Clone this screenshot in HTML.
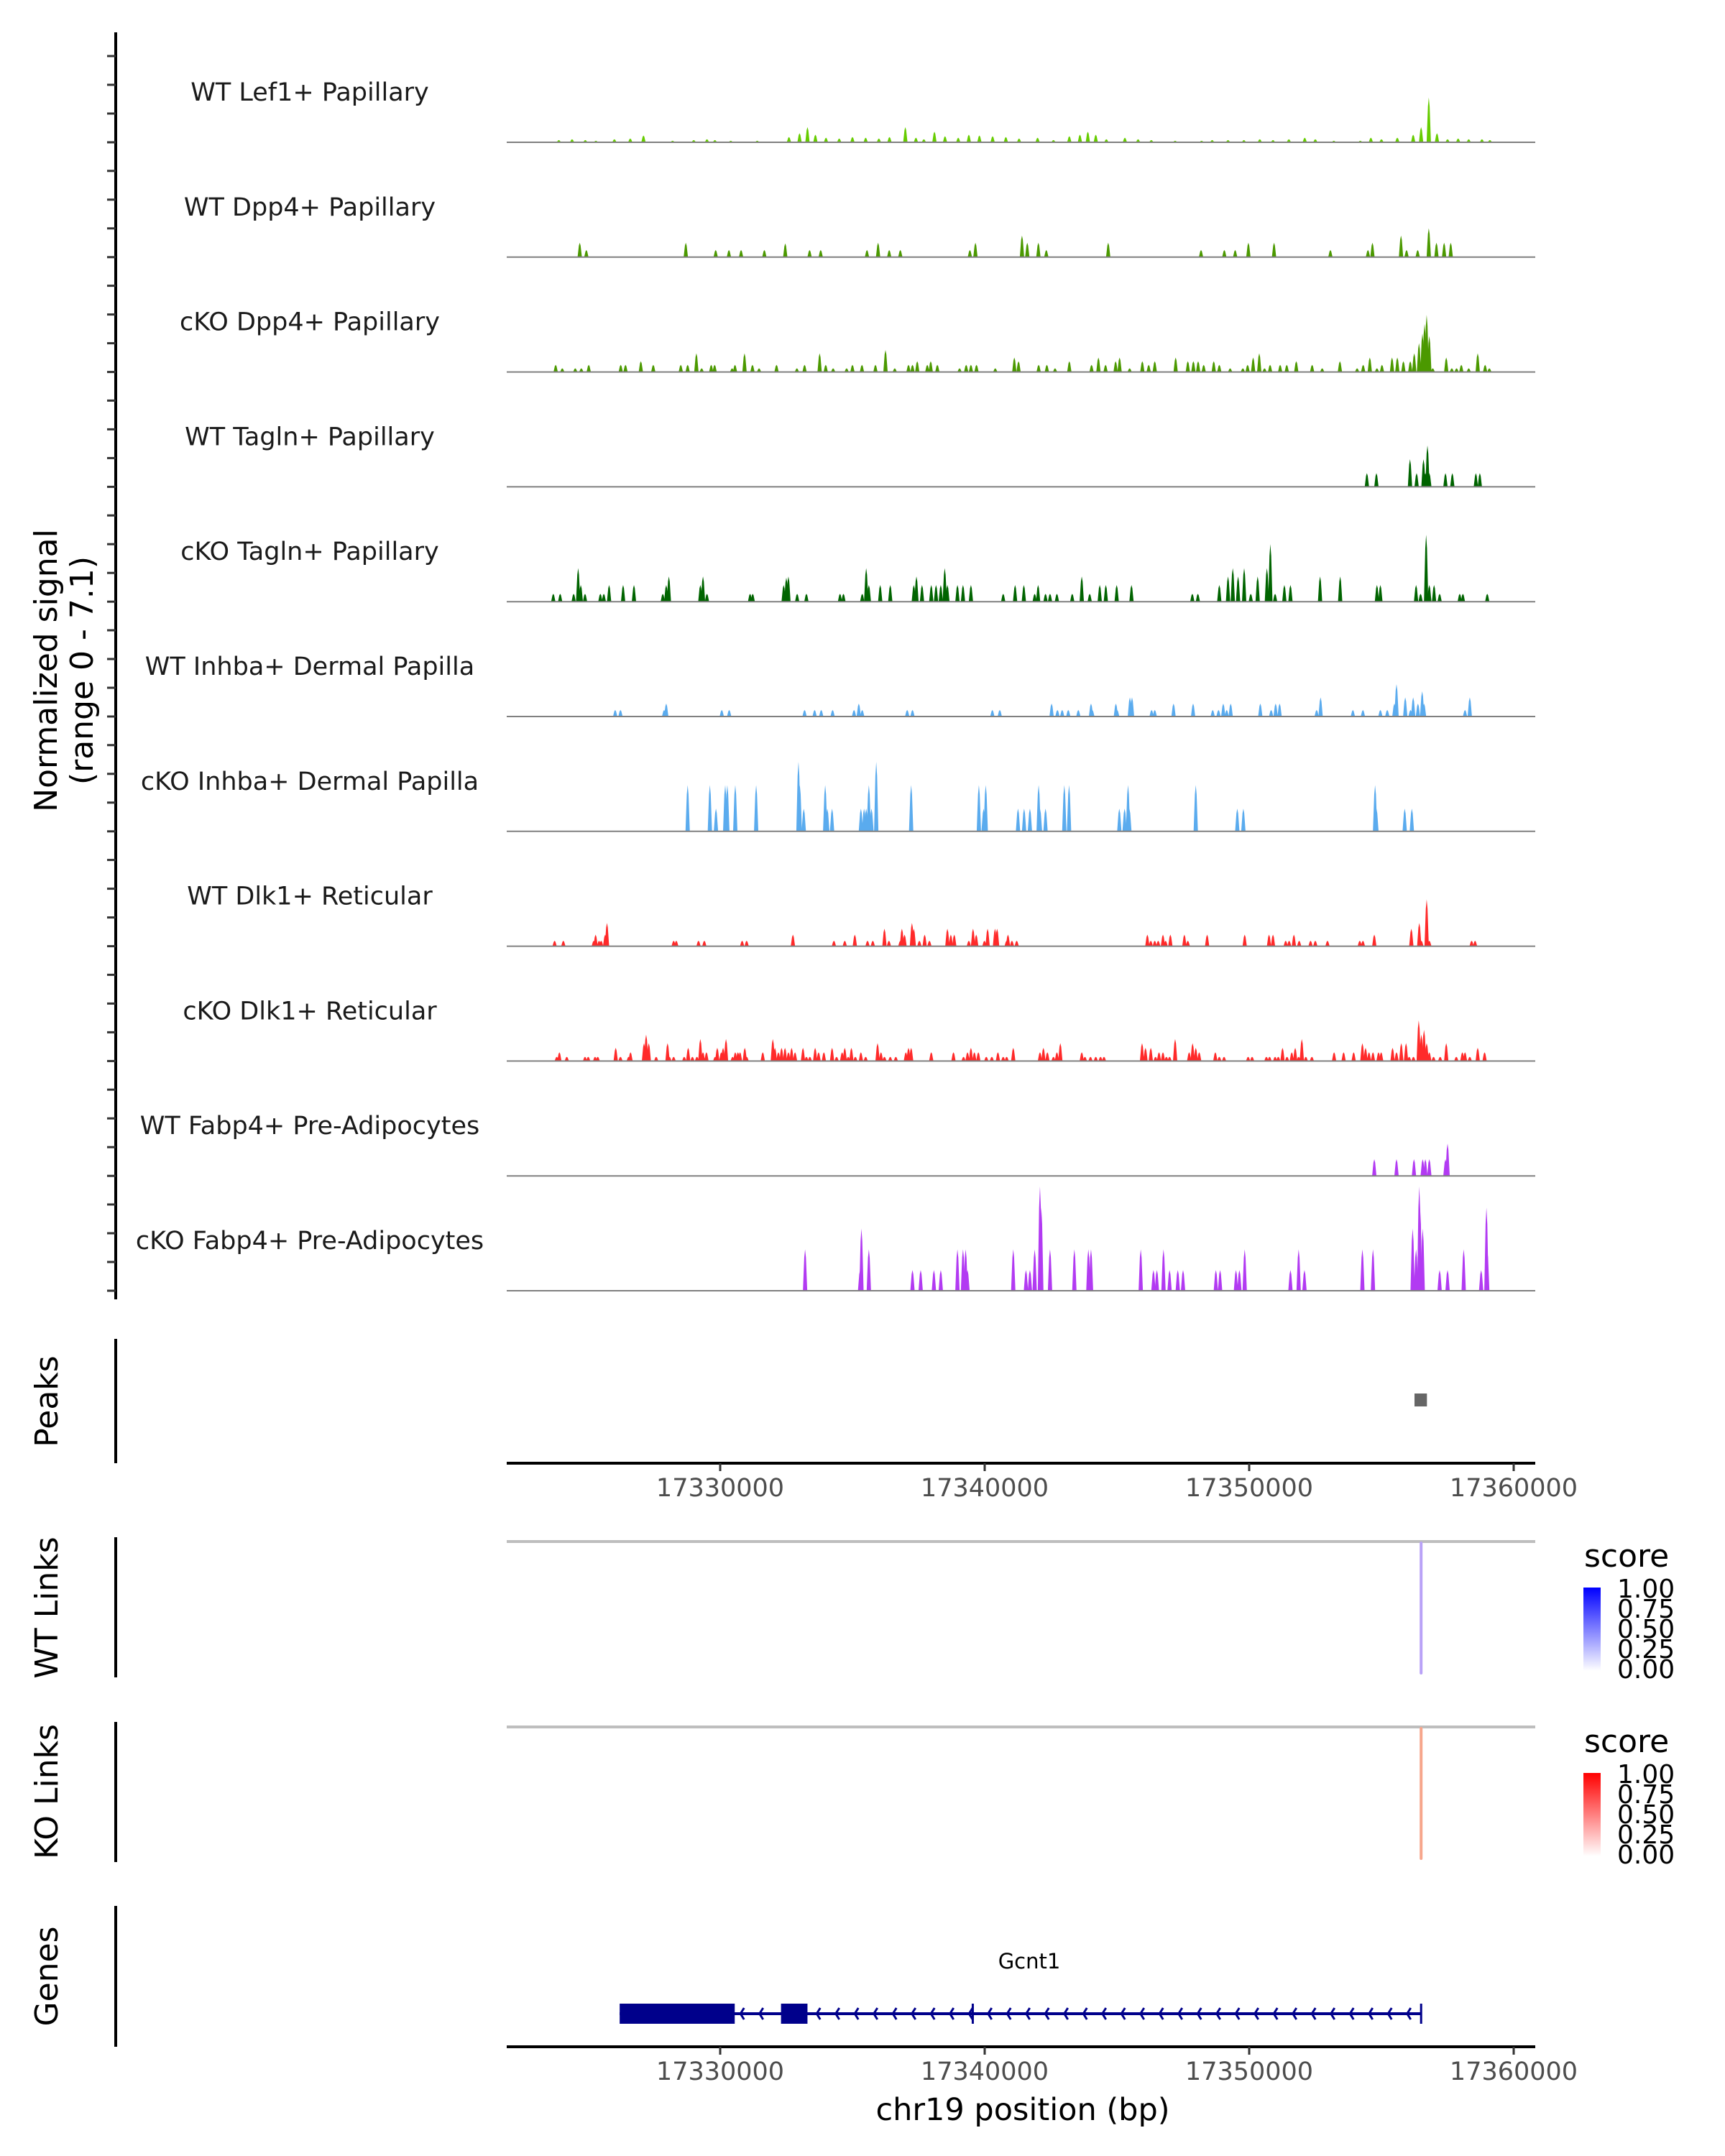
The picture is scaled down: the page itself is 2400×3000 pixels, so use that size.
<!DOCTYPE html>
<html><head><meta charset="utf-8"><style>
html,body{margin:0;padding:0;background:#fff;}
svg{display:block;font-family:"DejaVu Sans","Liberation Sans",sans-serif;}
</style></head><body>
<svg id="chart" width="2400" height="3000" viewBox="0 0 2400 3000" xmlns="http://www.w3.org/2000/svg">
<g id="static">
  <text transform="translate(79,933) rotate(-90)" text-anchor="middle" font-size="44" fill="#000">Normalized signal</text>
  <text transform="translate(129,933) rotate(-90)" text-anchor="middle" font-size="44" fill="#000">(range 0 - 7.1)</text>
  <text transform="translate(80,1950) rotate(-90)" text-anchor="middle" font-size="44" fill="#000">Peaks</text>
  <text transform="translate(80,2237) rotate(-90)" text-anchor="middle" font-size="44" fill="#000">WT Links</text>
  <text transform="translate(80,2493) rotate(-90)" text-anchor="middle" font-size="44" fill="#000">KO Links</text>
  <text transform="translate(80,2750) rotate(-90)" text-anchor="middle" font-size="44" fill="#000">Genes</text>
  <line x1="161" y1="1863" x2="161" y2="2036" stroke="#000" stroke-width="4"/>
  <line x1="161" y1="2139" x2="161" y2="2334" stroke="#000" stroke-width="4"/>
  <line x1="161" y1="2396" x2="161" y2="2591" stroke="#000" stroke-width="4"/>
  <line x1="161" y1="2652" x2="161" y2="2848" stroke="#000" stroke-width="4"/>
  <text x="1423" y="2950" text-anchor="middle" font-size="43" fill="#000">chr19 position (bp)</text>
  <defs>
    <linearGradient id="gBlue" x1="0" y1="1" x2="0" y2="0"><stop offset="0" stop-color="#ffffff"/><stop offset="1" stop-color="#0000ff"/></linearGradient>
    <linearGradient id="gRed" x1="0" y1="1" x2="0" y2="0"><stop offset="0" stop-color="#ffffff"/><stop offset="1" stop-color="#ff0000"/></linearGradient>
  </defs>
  <g>
    <text x="2204" y="2180" font-size="44" fill="#000">score</text>
    <rect x="2203" y="2209" width="24" height="116" fill="url(#gBlue)"/>
    <text x="2250" y="2223" font-size="36">1.00</text>
    <text x="2250" y="2251" font-size="36">0.75</text>
    <text x="2250" y="2279" font-size="36">0.50</text>
    <text x="2250" y="2307" font-size="36">0.25</text>
    <text x="2250" y="2335" font-size="36">0.00</text>
  </g>
  <g transform="translate(0,258)">
    <text x="2204" y="2180" font-size="44" fill="#000">score</text>
    <rect x="2203" y="2209" width="24" height="116" fill="url(#gRed)"/>
    <text x="2250" y="2223" font-size="36">1.00</text>
    <text x="2250" y="2251" font-size="36">0.75</text>
    <text x="2250" y="2279" font-size="36">0.50</text>
    <text x="2250" y="2307" font-size="36">0.25</text>
    <text x="2250" y="2335" font-size="36">0.00</text>
  </g>
  <text x="1432" y="2739" text-anchor="middle" font-size="29" fill="#000">Gcnt1</text>
</g>
<g id="dyn"></g>
</svg>
<script>
const regionStartKb = 17300;
const xTicksBp = [17330000, 17340000, 17350000, 17360000];
const trackNames = ["WT Lef1+ Papillary","WT Dpp4+ Papillary","cKO Dpp4+ Papillary","WT Tagln+ Papillary","cKO Tagln+ Papillary","WT Inhba+ Dermal Papilla","cKO Inhba+ Dermal Papilla","WT Dlk1+ Reticular","cKO Dlk1+ Reticular","WT Fabp4+ Pre-Adipocytes","cKO Fabp4+ Pre-Adipocytes"];
const trackColors = ["#66cc00","#4b9900","#4b9900","#006400","#006400","#5aabee","#5aabee","#ff2a2a","#ff2a2a","#b23af2","#b23af2"];
const wtLef1 = [[23.9,.15],[24.4,.2],[24.9,.15],[25.3,.1],[26.0,.2],[26.6,.25],[27.1,.45],[28.2,.1],[29.0,.15],[29.5,.2],[29.8,.15],[30.4,.1],[31.4,.1],[32.6,.35],[33.0,.6],[33.3,1.0],[33.6,.5],[34.0,.3],[34.5,.25],[35.0,.35],[35.5,.3],[36.0,.25],[36.4,.35],[37.0,1.0],[37.4,.3],[37.7,.2],[38.1,.7],[38.5,.4],[39.0,.3],[39.4,.5],[39.8,.45],[40.3,.4],[40.8,.35],[41.3,.25],[42.0,.3],[42.6,.15],[43.2,.4],[43.6,.5],[43.9,.7],[44.2,.5],[44.6,.2],[45.3,.3],[45.8,.2],[46.3,.15],[47.2,.1],[48.2,.1],[48.6,.15],[49.2,.15],[49.8,.15],[50.4,.2],[50.9,.15],[51.5,.2],[52.1,.3],[52.5,.2],[53.2,.1],[54.2,.1],[54.6,.3],[55.0,.2],[55.6,.3],[56.2,.5],[56.5,1.0],[56.79,2.95],[57.1,.6],[57.5,.2],[57.9,.25],[58.3,.2],[58.8,.2],[59.1,.15]];
const wtDpp4 = [[24.69,.95],[24.94,.47],[28.7,.95],[29.83,.47],[30.33,.47],[30.79,.47],[31.67,.47],[32.46,.9],[33.38,.47],[33.8,.47],[35.55,.47],[35.97,.95],[36.39,.47],[36.81,.47],[39.44,.47],[39.65,.95],[41.41,1.42],[41.61,.95],[42.03,.95],[42.33,.47],[44.67,.95],[48.18,.47],[49.06,.47],[49.47,.47],[49.97,.95],[50.94,.95],[53.07,.47],[54.49,.47],[54.66,.95],[55.74,1.42],[55.95,.47],[56.37,.47],[56.79,1.9],[57.08,.95],[57.37,.95],[57.62,.95]];
const ckoDpp4 = [[23.78,.47],[24.03,.24],[24.52,.24],[24.75,.24],[25.03,.47],[26.24,.47],[26.42,.47],[27.0,.71],[27.47,.47],[28.51,.47],[28.77,.47],[29.1,1.23],[29.3,.24],[29.66,.47],[29.79,.47],[30.45,.24],[30.56,.47],[30.92,1.23],[31.22,.47],[31.47,.24],[32.13,.47],[32.9,.24],[33.19,.47],[33.76,1.23],[33.99,.47],[34.27,.24],[34.78,.24],[35.0,.47],[35.36,.47],[35.87,.47],[36.25,1.45],[36.6,.24],[37.12,.47],[37.27,.47],[37.45,.71],[37.83,.47],[37.96,.71],[38.21,.47],[39.05,.24],[39.3,.47],[39.48,.47],[39.69,.47],[40.4,.24],[41.12,.95],[41.28,.71],[42.04,.47],[42.35,.47],[42.66,.24],[43.2,.71],[44.04,.47],[44.3,.95],[44.57,.47],[44.95,.71],[45.1,.95],[45.48,.24],[45.96,.71],[46.2,.47],[46.43,.71],[47.22,.95],[47.68,.71],[47.89,.71],[48.07,.71],[48.28,.47],[48.66,.71],[48.87,.47],[49.28,.24],[49.76,.24],[49.94,.47],[50.15,.95],[50.38,1.23],[50.58,.24],[50.79,.47],[51.17,.47],[51.42,.47],[51.78,.71],[52.38,.47],[52.76,.24],[53.43,.71],[54.08,.24],[54.31,.47],[54.56,.95],[54.83,.24],[55.02,.47],[55.4,.95],[55.6,.95],[55.83,.71],[56.09,.71],[56.24,1.23],[56.42,1.9],[56.55,2.53],[56.63,3.16],[56.71,3.76],[56.81,2.37],[56.94,.24],[57.45,.95],[57.66,.24],[57.84,.24],[58.02,.47],[58.3,.24],[58.64,1.23],[58.92,.47],[59.08,.24]];
const wtTagln = [[54.45,.9],[54.81,.9],[56.08,1.82],[56.33,.9],[56.59,1.82],[56.66,.9],[56.74,2.72],[56.81,.9],[57.42,.9],[57.68,.9],[58.57,.9],[58.72,.9]];
const ckoTagln = [[23.69,.52],[23.95,.52],[24.46,.52],[24.63,2.21],[24.73,1.1],[24.89,.52],[25.47,.52],[25.6,.52],[25.8,1.1],[26.33,1.1],[26.74,1.1],[27.83,.52],[27.96,1.1],[28.06,1.66],[29.25,1.1],[29.35,1.66],[29.5,.52],[31.13,.52],[31.23,.52],[32.4,1.1],[32.5,1.58],[32.58,1.66],[32.91,.52],[33.26,.52],[34.53,.52],[34.66,.52],[35.37,.52],[35.52,2.21],[35.62,1.1],[36.05,1.1],[36.43,1.1],[37.32,1.1],[37.42,1.66],[37.63,1.1],[37.98,1.1],[38.16,1.1],[38.34,1.1],[38.49,2.21],[38.59,1.1],[38.97,1.1],[39.18,1.1],[39.48,1.1],[40.7,.52],[41.15,1.1],[41.48,1.1],[41.89,.52],[42.02,1.1],[42.3,.52],[42.47,.52],[42.73,.52],[43.31,.52],[43.67,1.66],[43.97,.52],[44.35,1.1],[44.58,1.1],[44.99,1.1],[45.55,1.1],[47.85,.52],[48.06,.52],[48.87,1.1],[49.2,1.66],[49.38,2.21],[49.58,1.66],[49.81,2.21],[50.06,.52],[50.32,1.66],[50.67,2.21],[50.8,3.79],[50.98,.52],[51.33,1.1],[51.56,1.1],[52.68,1.66],[53.44,1.66],[54.83,1.1],[54.96,1.1],[56.31,1.1],[56.48,.52],[56.69,4.42],[56.81,1.1],[56.99,1.1],[57.2,.52],[57.96,.52],[58.08,.52],[59.0,.52]];
const wtInhba = [[26.03,.43],[26.23,.43],[27.88,.43],[27.96,.85],[30.06,.43],[30.34,.43],[33.19,.43],[33.57,.43],[33.82,.43],[34.25,.43],[35.06,.43],[35.24,.85],[35.37,.43],[37.07,.43],[37.27,.43],[40.29,.43],[40.57,.43],[42.53,.85],[42.75,.43],[42.93,.43],[43.16,.43],[43.54,.43],[44.02,.85],[44.07,.43],[44.96,.85],[45.01,.43],[45.49,1.26],[45.57,1.26],[46.31,.43],[46.43,.43],[47.14,.85],[47.88,.85],[48.62,.43],[48.84,.43],[49.02,.85],[49.15,.43],[49.3,.85],[50.42,.85],[50.83,.43],[51.0,.85],[51.15,.85],[52.55,.43],[52.7,1.26],[53.92,.43],[54.3,.43],[54.96,.43],[55.22,.43],[55.49,.85],[55.57,2.13],[55.9,1.26],[56.1,.43],[56.2,1.26],[56.38,.85],[56.54,1.66],[56.61,.85],[58.16,.43],[58.34,1.26]];
const ckoInhba = [[28.77,3.05],[29.61,3.05],[29.84,1.5],[30.19,3.05],[30.27,3.05],[30.57,3.05],[31.36,3.05],[32.96,4.58],[33.01,3.05],[33.16,1.5],[33.97,3.05],[34.05,1.5],[34.23,1.5],[35.32,1.5],[35.44,1.5],[35.52,1.5],[35.62,3.05],[35.72,1.5],[35.9,4.58],[37.22,3.05],[39.78,3.05],[39.96,1.5],[40.04,3.05],[41.26,1.5],[41.49,1.5],[41.71,1.5],[42.04,3.05],[42.09,1.5],[42.3,1.5],[43.01,3.05],[43.19,3.05],[45.09,1.5],[45.29,1.5],[45.42,3.05],[45.47,1.5],[47.98,3.05],[49.55,1.5],[49.78,1.5],[54.76,3.05],[54.81,1.5],[55.88,1.5],[56.15,1.5]];
const wtDlk1 = [[23.74,.36],[24.07,.36],[25.22,.36],[25.29,.76],[25.42,.36],[25.5,.36],[25.65,.76],[25.72,1.53],[28.24,.36],[28.34,.36],[29.18,.36],[29.4,.36],[30.83,.36],[31.0,.36],[32.75,.76],[34.3,.36],[34.71,.36],[35.09,.76],[35.57,.36],[35.77,.36],[36.21,1.15],[36.38,.36],[36.81,.36],[36.87,1.15],[36.97,.76],[37.25,1.53],[37.32,1.15],[37.53,.36],[37.73,.76],[37.91,.36],[38.59,1.15],[38.72,.76],[38.85,.76],[39.4,.36],[39.56,1.15],[39.68,.76],[39.99,.36],[40.11,1.15],[40.39,1.15],[40.47,1.15],[40.83,.36],[40.88,.76],[41.03,.36],[41.21,.36],[46.15,.76],[46.28,.36],[46.43,.36],[46.56,.36],[46.74,.76],[46.84,.36],[47.02,.76],[47.55,.76],[47.68,.36],[48.41,.76],[49.83,.76],[50.75,.76],[50.9,.76],[51.38,.36],[51.51,.36],[51.69,.76],[51.89,.36],[52.32,.36],[52.5,.36],[52.96,.36],[54.18,.36],[54.3,.36],[54.73,.76],[56.13,1.15],[56.43,1.53],[56.51,.36],[56.71,3.08],[56.81,.36],[58.41,.36],[58.54,.36]];
const ckoDlk1 = [[23.82,.28],[23.92,.58],[24.2,.28],[24.89,.28],[25.01,.28],[25.27,.28],[25.37,.28],[26.05,.87],[26.23,.28],[26.54,.28],[26.61,.58],[27.12,1.18],[27.2,1.74],[27.3,1.18],[27.58,.28],[28.01,1.18],[28.08,.28],[28.24,.28],[28.64,.28],[28.79,.87],[28.95,.28],[29.12,.28],[29.25,1.45],[29.35,.58],[29.48,.58],[29.81,.28],[29.89,.87],[30.04,.58],[30.11,.87],[30.22,1.45],[30.47,.28],[30.57,.58],[30.67,.58],[30.75,.58],[30.93,.87],[31.0,.28],[31.61,.58],[31.99,1.45],[32.07,.87],[32.2,.58],[32.32,.87],[32.45,.87],[32.58,.58],[32.7,.87],[32.83,.58],[33.13,.87],[33.26,.28],[33.39,.28],[33.59,.87],[33.72,.58],[33.92,.58],[34.23,.87],[34.4,.28],[34.61,.58],[34.71,.87],[34.84,.28],[34.96,.87],[35.11,.28],[35.32,.58],[35.5,.28],[35.95,1.18],[36.08,.58],[36.21,.28],[36.43,.28],[36.64,.28],[37.02,.58],[37.12,.87],[37.22,.87],[37.98,.58],[38.82,.58],[39.2,.28],[39.35,.58],[39.48,.87],[39.61,.58],[39.76,.58],[40.06,.28],[40.27,.28],[40.5,.58],[40.7,.28],[40.83,.28],[41.08,.87],[42.09,.58],[42.22,.87],[42.37,.58],[42.6,.28],[42.73,.58],[42.86,1.18],[43.67,.58],[43.79,.28],[44.0,.28],[44.2,.28],[44.38,.28],[44.51,.28],[45.95,1.18],[46.08,.87],[46.28,.87],[46.46,.28],[46.59,.58],[46.74,.58],[46.87,.28],[46.99,.28],[47.2,1.45],[47.73,.58],[47.86,1.18],[47.98,.87],[48.11,.58],[48.72,.58],[48.87,.28],[49.05,.28],[49.96,.28],[50.11,.28],[50.65,.28],[50.77,.28],[50.98,.28],[51.1,.28],[51.26,.87],[51.43,.28],[51.61,.58],[51.74,.87],[51.87,.28],[51.99,1.45],[52.14,.28],[52.37,.28],[53.21,.58],[53.57,.58],[53.95,.58],[54.28,1.18],[54.4,.87],[54.53,.58],[54.68,.58],[54.89,.58],[54.99,.58],[55.42,.87],[55.57,.58],[55.75,1.18],[55.93,1.18],[56.05,.28],[56.21,.28],[56.41,2.68],[56.51,1.74],[56.61,2.05],[56.71,1.18],[56.81,.58],[56.97,.28],[57.22,.28],[57.45,1.18],[57.83,.28],[58.06,.58],[58.16,.58],[58.34,.28],[58.64,.87],[58.9,.58]];
const wtFabp4 = [[54.73,1.1],[55.57,1.1],[56.23,1.1],[56.56,1.1],[56.66,1.1],[56.81,1.1],[57.42,1.1],[57.5,2.13]];
const ckoFabp4 = [[33.21,2.73],[35.29,1.36],[35.34,4.1],[35.62,2.73],[37.27,1.36],[37.58,1.36],[38.08,1.36],[38.34,1.36],[38.97,2.73],[39.18,2.73],[39.28,2.73],[39.35,1.36],[41.08,2.73],[41.56,1.36],[41.71,1.36],[41.89,2.73],[42.09,6.87],[42.14,5.48],[42.47,2.73],[43.39,2.73],[43.92,2.73],[44.02,2.73],[45.9,2.73],[46.38,1.36],[46.51,1.36],[46.76,2.73],[46.99,1.36],[47.3,1.36],[47.5,1.36],[48.74,1.36],[48.9,1.36],[49.5,1.36],[49.63,1.36],[49.83,2.73],[51.56,1.36],[51.87,2.73],[52.09,1.36],[54.28,2.73],[54.68,2.73],[56.18,4.1],[56.31,2.73],[56.43,6.87],[56.46,5.48],[56.56,4.1],[57.2,1.36],[57.5,1.36],[58.11,2.73],[58.77,1.36],[58.97,5.48],[59.0,2.73]];
const peakRegionsKb = [[56.25,56.72]];
const wtLinks = [[56.5,0.4]];
const koLinks = [[56.5,0.45]];
const geneExonsKb = [[26.2,30.55],[32.3,33.3]];
const geneSpanKb = [26.2,56.5];
const geneTssTickKb = 39.55;

const trackData = [wtLef1,wtDpp4,ckoDpp4,wtTagln,ckoTagln,wtInhba,ckoInhba,wtDlk1,ckoDlk1,wtFabp4,ckoFabp4];

const NS = "http://www.w3.org/2000/svg";
const X0 = 705, X1 = 2136;
const xScale = bp => 1002 + (bp - 17330000) * 0.0368;
const xKb = kb => xScale((regionStartKb + kb) * 1000);
const yMax = 7.1, trackH = 150;
const base0 = 198, pitch = 159.8;
const dyn = document.getElementById('dyn');
function mk(tag, attrs, parent) {
  const e = document.createElementNS(NS, tag);
  for (const k in attrs) e.setAttribute(k, attrs[k]);
  (parent || dyn).appendChild(e);
  return e;
}

const ax = mk('line', {x1:161, y1:45, x2:161, y2:1808, stroke:'#000', 'stroke-width':4});


for (let i = 0; i < trackNames.length; i++) {
  const b = base0 + i * pitch;
  for (let k = 0; k < 4; k++) {
    const tk = mk('line', {x1:149, y1:b - k*40, x2:161, y2:b - k*40, stroke:'#333', 'stroke-width':3});
    
    
  }
}

trackNames.forEach((nm, i) => {
  const b = base0 + i * pitch;
  const g = mk('g', {});
  
  
  const t = mk('text', {x:431, y:b - 58, 'text-anchor':'middle', 'font-size':35, fill:'#1a1a1a'}, g);
  t.textContent = nm;
  
  
  trackData[i].forEach(d => {
    const x = xKb(d[0]);
    const h = d[1] / yMax * trackH;
    const p = mk('path', {d:`M${x-3},${b} L${x-1.2},${b-h*0.8} L${x},${b-h} L${x+1.2},${b-h*0.8} L${x+3},${b} Z`, fill:trackColors[i]}, g);
    
    
  });
  const bl = mk('line', {x1:X0, y1:b, x2:X1, y2:b, stroke:'#808080', 'stroke-width':2}, g);
  
  
});

peakRegionsKb.forEach(r => {
  const x0 = xKb(r[0]), x1 = xKb(r[1]);
  const pk = mk('rect', {x:x0, y:1939, width:x1-x0, height:18, fill:'#666'});
  
  
});

function xAxis(y, name) {
  const g = mk('g', {});
  
  
  mk('line', {x1:X0, y1:y, x2:X1, y2:y, stroke:'#000', 'stroke-width':4}, g);
  xTicksBp.forEach(v => {
    const x = xScale(v);
    const tk = mk('line', {x1:x, y1:y, x2:x, y2:y+11, stroke:'#333', 'stroke-width':3}, g);
    
    
    const tl = mk('text', {x:x, y:y+46, 'text-anchor':'middle', 'font-size':35, fill:'#4d4d4d'}, g);
    tl.textContent = v;
    
    
  });
}
xAxis(2036, 'peaks-x-axis');
xAxis(2848, 'genes-x-axis');

function links(arr, yTop, yBot, color, name) {
  const gl = mk('line', {x1:X0, y1:yTop, x2:X1, y2:yTop, stroke:'#bebebe', 'stroke-width':4});
  
  
  arr.forEach(l => {
    const x = xKb(l[0]);
    const ln = mk('line', {x1:x, y1:yTop+2, x2:x, y2:yBot, stroke:color, 'stroke-width':4, 'stroke-linecap':'round'});
    
    
  });
}
links(wtLinks, 2145, 2328, '#b9a2f7', 'wt-link');
links(koLinks, 2403, 2586, '#f7a68c', 'ko-link');

const gy = 2802, navy = '#00008b';
const gline = mk('line', {x1:xKb(geneSpanKb[0]), y1:gy, x2:xKb(geneSpanKb[1]), y2:gy, stroke:navy, 'stroke-width':4});


const gx0 = xKb(geneExonsKb[0][1]), gx1 = xKb(geneSpanKb[1]);
for (let x = gx0 + 8; x < gx1 - 4; x += 26.5) {
  const inExon = geneExonsKb.some(e => x > xKb(e[0]) - 4 && x < xKb(e[1]) + 4);
  if (inExon) continue;
  const c = mk('polyline', {points:`${x+5},${gy-8} ${x},${gy} ${x+5},${gy+8}`, fill:'none', stroke:navy, 'stroke-width':3});
  
  
}
geneExonsKb.forEach(e => {
  const r = mk('rect', {x:xKb(e[0]), y:2788, width:xKb(e[1]) - xKb(e[0]), height:28, fill:navy});
  
  
});
const endT = mk('line', {x1:gx1, y1:gy-14, x2:gx1, y2:gy+14, stroke:navy, 'stroke-width':3});


const tssT = mk('line', {x1:xKb(geneTssTickKb), y1:gy-14, x2:xKb(geneTssTickKb), y2:gy+14, stroke:navy, 'stroke-width':3});


</script>
</body></html>
